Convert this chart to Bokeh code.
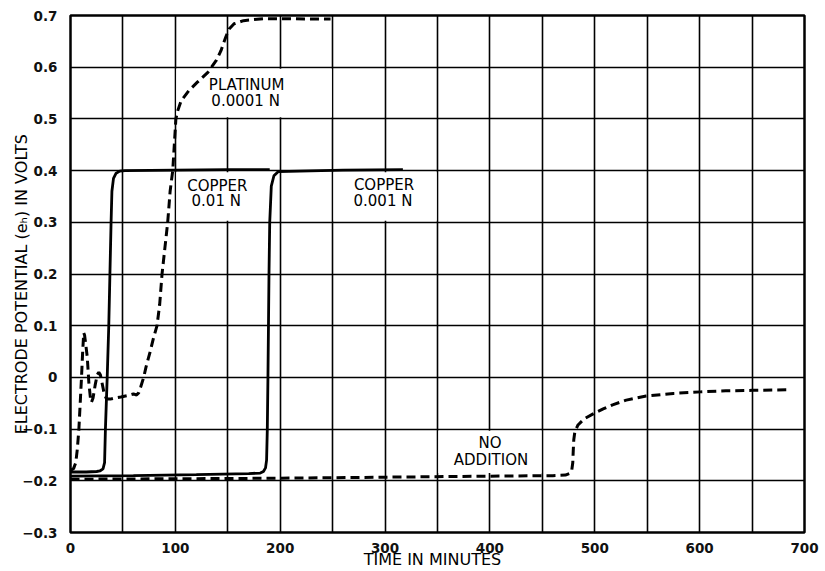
from bokeh.plotting import figure
from bokeh.models import Range1d, FixedTicker
from bokeh.core.properties import value
from bokeh.embed import file_html
from bokeh.resources import INLINE

# ---- data ----
x_ticks = [0, 100, 200, 300, 400, 500, 600, 700]
x_grid = [0, 50, 100, 150, 200, 250, 300, 350, 400, 450, 500, 550, 600, 650, 700]
y_ticks = [-0.3, -0.2, -0.1, 0.0, 0.1, 0.2, 0.3, 0.4, 0.5, 0.6, 0.7]
y_tick_labels = ["\u22120.3", "\u22120.2", "\u22120.1", "0", "0.1", "0.2", "0.3", "0.4", "0.5", "0.6", "0.7"]

cu_01_x = [0, 15, 25, 28, 31, 32.5, 33.3, 35, 36.5, 37.6, 38.7, 39.5, 41, 43.5, 47, 52, 100, 150, 190]
cu_01_y = [-0.183, -0.183, -0.182, -0.181, -0.177, -0.165, -0.1, 0.0, 0.1, 0.2, 0.3, 0.36, 0.385, 0.395, 0.399, 0.400, 0.401, 0.402, 0.402]

cu_001_x = [0, 60, 120, 170, 181, 184, 186, 187, 187.7, 188.3, 188.8, 189.3, 190, 191.5, 194, 198, 260, 317]
cu_001_y = [-0.191, -0.190, -0.188, -0.186, -0.185, -0.182, -0.175, -0.16, -0.1, 0.0, 0.1, 0.2, 0.3, 0.37, 0.39, 0.398, 0.401, 0.402]

pt_x = [0, 3, 5, 6.5, 8, 9.5, 10.5, 11.5, 12.6, 13.4, 14.5, 16, 17.5, 19, 20, 21.5, 23.5, 25.5, 27, 28.5,
        30, 32, 34, 36, 38, 42, 48, 55, 60, 63, 65, 67, 69.8, 72, 76, 79, 82.5, 85, 87.3, 90, 92.7,
        95, 97.5, 99, 100.5, 102.3, 105.5, 113, 121, 131, 139, 143.5, 148, 151.3, 156, 165, 184, 248]
pt_y = [-0.18, -0.176, -0.165, -0.139, -0.1, -0.04, 0.0, 0.045, 0.086, 0.082, 0.065, 0.039, -0.01, -0.04, -0.048,
        -0.04, -0.015, 0.005, 0.01, 0.005, -0.01, -0.03, -0.04, -0.042, -0.042, -0.04, -0.038, -0.035, -0.032,
        -0.034, -0.03, -0.018, 0.0, 0.02, 0.05, 0.075, 0.1, 0.14, 0.2, 0.25, 0.3, 0.36, 0.4, 0.45, 0.5, 0.516,
        0.535, 0.555, 0.571, 0.590, 0.613, 0.632, 0.658, 0.674, 0.684, 0.690, 0.694, 0.693]

na_x = [0, 100, 200, 300, 400, 460, 472, 476, 478, 479, 479.5, 480, 481, 484, 490, 498, 508, 517, 530, 549,
        575, 601, 625, 650, 684]
na_y = [-0.197, -0.196, -0.195, -0.193, -0.191, -0.190, -0.189, -0.186, -0.18, -0.165, -0.14, -0.12, -0.105,
        -0.092, -0.08, -0.071, -0.061, -0.053, -0.044, -0.036, -0.031, -0.028, -0.026, -0.025, -0.024]

# label cells where the grid was erased
box_left = [100.8, 100.8, 250.8, 350.8]
box_right = [249.2, 185.0, 349.2, 449.2]
box_bottom = [0.503, 0.303, 0.303, -0.185]
box_top = [0.597, 0.397, 0.397, -0.103]

label_text = ["PLATINUM", "0.0001 N", "COPPER", "0.01 N", "COPPER", "0.001 N", "NO", "ADDITION"]
label_x = [168, 167, 140, 139, 299, 298, 400, 401]
label_y = [0.565, 0.535, 0.370, 0.341, 0.372, 0.342, -0.127, -0.159]

x_title = "TIME  IN  MINUTES"
y_title = "ELECTRODE  POTENTIAL  (e\u2095)  IN  VOLTS"

FONT = "DejaVu Sans"

p = figure(width=825, height=571, output_backend="svg", toolbar_location=None,
           x_range=Range1d(0, 700), y_range=Range1d(-0.3, 0.7),
           min_border_left=70, min_border_right=21, min_border_top=15, min_border_bottom=38)
p.background_fill_color = "white"
p.border_fill_color = "white"
p.outline_line_color = "black"
p.outline_line_width = 2.5

p.xaxis.ticker = FixedTicker(ticks=x_ticks)
p.yaxis.ticker = FixedTicker(ticks=y_ticks)
p.yaxis.major_label_overrides = {t: l for t, l in zip(y_ticks, y_tick_labels)}
p.xgrid.ticker = FixedTicker(ticks=x_grid)
p.ygrid.ticker = FixedTicker(ticks=y_ticks)
for g in (p.xgrid, p.ygrid):
    g.grid_line_color = "black"
    g.grid_line_width = 1.6
    g.grid_line_alpha = 1.0

for ax in (p.xaxis, p.yaxis):
    ax.axis_line_color = None
    ax.major_tick_line_color = None
    ax.minor_tick_line_color = None
    ax.major_label_text_font = FONT
    ax.major_label_text_font_size = "13.5px"
    ax.major_label_text_font_style = "bold"
    ax.major_label_text_color = "#111111"
    ax.axis_label_text_font = FONT
    ax.axis_label_text_font_size = "16px"
    ax.axis_label_text_font_style = "normal"
    ax.axis_label_text_color = "black"

p.xaxis.major_label_standoff = 4
p.xaxis.axis_label = x_title
p.xaxis.axis_label_standoff = -6
p.yaxis.major_label_standoff = 7
p.yaxis.axis_label = y_title
p.yaxis.axis_label_standoff = -12

p.quad(left=box_left, right=box_right, bottom=box_bottom, top=box_top,
       fill_color="white", line_color=None)

p.line(na_x, na_y, line_color="black", line_width=3, line_dash="9 5")
p.line(cu_001_x, cu_001_y, line_color="black", line_width=2.8)
p.line(cu_01_x, cu_01_y, line_color="black", line_width=2.8)
p.line(pt_x, pt_y, line_color="black", line_width=3, line_dash="9 5")

p.text(x=label_x, y=label_y, text=label_text, text_font=value(FONT), text_font_size="15px",
       text_align="center", text_baseline="middle", text_color="black")

open("out.html", "w").write(file_html(p, INLINE))
